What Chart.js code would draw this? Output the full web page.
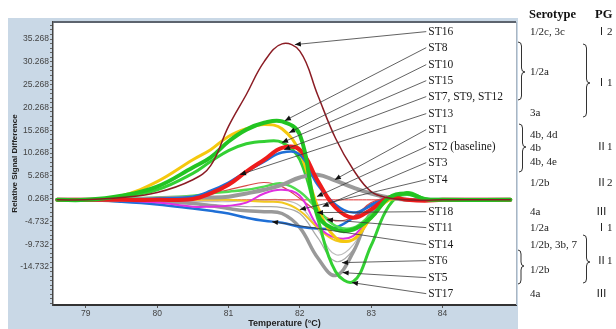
<!DOCTYPE html>
<html><head><meta charset="utf-8">
<script src="https://cdn.jsdelivr.net/npm/chart.js@4.4.1/dist/chart.umd.min.js"></script>
<style>html,body{margin:0;padding:0;background:#fff;overflow:hidden}canvas{display:block}</style>
</head><body>
<canvas id="c" width="616" height="329" style="width:616px;height:329px"></canvas>
<script>
// ---- data (temperature in °C, relative signal difference) ----
const temps = [78.6, 79.0, 79.5, 80.0, 80.5, 80.75, 81.0, 81.25, 81.5, 81.75, 82.0, 82.25, 82.5, 82.75, 83.0, 83.25, 83.5, 83.75, 84.0, 84.95];
const st16 = [0, 0, 0.5, 1.6, 4.4, 7.5, 16.1, 23.1, 30.3, 34.2, 32.6, 23.0, 13.5, 6.6, 1.8, 0.4, 0, -0.1, 0, 0];
const st8  = [0, 0, 0.9, 2.9, 7.1, 9.3, 12.8, 15.4, 16.9, 17.2, 14.3, -3.2, -6.5, -6.5, -3.9, 0.5, 1.4, 0.2, 0, 0];
const st10 = [0, 0, 0.9, 4.0, 8.8, 11.0, 13.9, 15.6, 16.5, 15.6, 10.4, -1.5, -8.3, -8.7, -3.9, 0, 0, 0, 0, 0];
const st15 = [0, 0, 0.3, 0.5, 0.9, 1.4, 1.8, 2.2, 2.9, 3.6, 1.8, -2.1, -5.7, -6.1, -3.2, 0, 1.1, 0.2, 0, 0];
const st17 = [0, 0, 0.7, 2.2, 5.8, 8.4, 10.8, 12.3, 12.8, 12.6, 8.8, -4.1, -15.7, -17.9, -10.0, -1.3, 1.6, 0.2, 0, 0];
const st7  = [0, 0, 0, 0, 0.2, 1.4, 3.3, 6.2, 8.8, 11.4, 11.0, 4.2, -1.7, -3.9, -2.1, 0.5, 0, -0.2, 0, 0];
const st13 = [0, 0, 0, 0.3, 0.7, 2.0, 3.8, 6.2, 8.4, 10.4, 9.9, 3.3, -1.0, -2.8, -1.3, 0.5, 0, 0, 0, 0];
const st1  = [0, 0, 0, 0.3, 0.5, 0.5, 0.7, 1.4, 2.2, 3.3, 4.9, 5.5, 4.2, 2.7, 1.4, 0.5, 0, 0, 0, 0];
const st2  = [0, 0, 0, 0, 0, 0, 0, 0, 0, 0, 0, 0, 0, 0, 0, 0, 0, 0, 0, 0];
const st3  = [0, 0, 0, 0.3, 0.7, 1.4, 2.2, 3.1, 3.8, 2.9, 0.3, -2.6, -4.6, -3.7, -0.6, 0.5, 0, 0, 0, 0];
const st4  = [0, 0, 0, 0, 0, 0, 0, -0.2, -0.4, -0.6, -2.4, -6.1, -8.9, -8.7, -3.9, 0.3, 0, 0, 0, 0];
const st11 = [0, 0, -0.2, -0.6, -1.5, -1.5, -1.3, -0.6, 1.4, 2.2, 0.9, -5.7, -8.3, -7.9, -3.2, 0.3, 0, 0, 0, 0];
const st14 = [0, 0, -0.4, -1.0, -1.9, -2.4, -3.0, -3.9, -4.6, -5.0, -5.9, -6.3, -6.1, -3.9, -1.0, 0.3, 0, 0, 0, 0];
const st5  = [0, 0, -0.2, -0.4, -0.8, -1.3, -1.9, -2.4, -2.6, -3.0, -6.1, -12.7, -16.6, -11.4, -2.6, 0.3, 0, 0, 0, 0];
const st6  = [0, 0, -0.2, -0.4, -0.8, -1.0, -1.3, -1.5, -1.5, -1.7, -3.0, -8.3, -13.5, -10.9, -3.0, 0.3, 0, 0, 0, 0];
const st18 = [0, 0, 0, -0.2, -0.4, -0.4, -0.4, -0.2, 0, 0, -1.3, -6.5, -12.0, -9.8, -2.6, 0.3, 0, 0, 0, 0];

const yMajorTicks = [-14.732, -9.732, -4.732, 0.268, 5.268, 10.268, 15.268, 20.268, 25.268, 30.268, 35.268];
const xTicks = [79, 80, 81, 82, 83, 84];

// callouts: label, label y (value), arrow target temperature, arrow target value
const calloutLabels  = ['ST16', 'ST8', 'ST10', 'ST15', 'ST7, ST9, ST12', 'ST13', 'ST1', 'ST2 (baseline)', 'ST3', 'ST4', 'ST18', 'ST11', 'ST14', 'ST6', 'ST5', 'ST17'];
const calloutLabelY  = [36.89, 33.38, 29.65, 26.14, 22.64, 18.91, 15.40, 11.67, 8.16, 4.43, -2.58, -6.09, -9.82, -13.33, -17.06, -20.57];
const calloutTargetT = [81.93, 81.79, 81.85, 81.75, 81.78, 81.16, 82.49, 82.24, 82.32, 82.00, 82.24, 82.38, 81.61, 82.59, 82.60, 82.73];
const calloutTargetV = [34.04, 17.37, 14.74, 12.55, 11.01, 5.53, 4.43, 0.71, -1.48, -2.14, -2.80, -4.34, -4.78, -13.77, -15.96, -18.15];
const calloutLabelT = 83.8;

// serotype table (text)
const serotypeText = ['1/2c, 3c', '1/2a', '3a', '4b, 4d', '4b', '4b, 4e', '1/2b', '4a', '1/2a', '1/2b, 3b, 7', '1/2b', '4a'];
const serotypeY    = [32, 72, 113, 135, 148, 162, 183, 212, 228, 245, 270, 294];
const pgText = ['Ⅰ2', 'Ⅰ1', 'Ⅱ1', 'Ⅱ2', 'Ⅲ', 'Ⅰ1', 'Ⅱ1', 'Ⅲ'];
const pgY    = [32, 83, 147, 183, 212, 228, 261, 294];

// ---- styles (first entry is drawn on top) ----
const seriesList = [
  {d: st16, c: '#8b1c24', w: 1.5},
  {d: st8,  c: '#22c422', w: 4},
  {d: st7,  c: '#ee1c1c', w: 4},
  {d: st13, c: '#1f6fd6', w: 2.5},
  {d: st1,  c: '#9a9a9a', w: 4},
  {d: st10, c: '#f5c80e', w: 3},
  {d: st17, c: '#33d033', w: 3},
  {d: st15, c: '#50dc50', w: 2.5},
  {d: st11, c: '#e030e0', w: 2},
  {d: st4,  c: '#f2c820', w: 2},
  {d: st3,  c: '#d84848', w: 1.2},
  {d: st2,  c: '#e03030', w: 1},
  {d: st14, c: '#1f6fd6', w: 2.5},
  {d: st5,  c: '#999999', w: 3.5},
  {d: st6,  c: '#a8a8a8', w: 1.2},
  {d: st18, c: '#bdbdbd', w: 1.2}
];

const datasets = seriesList.map(s => ({
  data: temps.map((t, i) => ({x: t, y: s.d[i]})),
  borderColor: s.c, borderWidth: s.w, pointRadius: 0,
  tension: 0.4, fill: false,
  borderCapStyle: 'round', borderJoinStyle: 'round'
}));

function isMajor(v) { return yMajorTicks.some(m => Math.abs(m - v) < 1e-6); }

function brace(ctx, x, y1, y2, ym, w) {
  const m = x + w * 0.5;
  ctx.beginPath();
  ctx.moveTo(x, y1);
  ctx.quadraticCurveTo(m, y1, m, y1 + 4);
  ctx.lineTo(m, ym - 4);
  ctx.quadraticCurveTo(m, ym, x + w, ym);
  ctx.quadraticCurveTo(m, ym, m, ym + 4);
  ctx.lineTo(m, y2 - 4);
  ctx.quadraticCurveTo(m, y2, x, y2);
  ctx.stroke();
}

const decor = {
  id: 'decor',
  beforeDraw(chart) {
    const {ctx, chartArea: a} = chart;
    ctx.save();
    ctx.fillStyle = '#ffffff'; ctx.fillRect(0, 0, chart.width, chart.height);
    ctx.fillStyle = '#c9d8e6'; ctx.fillRect(8, 18, 510, 311);
    ctx.fillStyle = '#ffffff'; ctx.fillRect(a.left, a.top, a.right - a.left, a.bottom - a.top);
    ctx.restore();
  },
  afterDatasetsDraw(chart) {
    const {ctx, scales: {x, y}, chartArea: a} = chart;
    ctx.save();
    ctx.strokeStyle = '#5d646e'; ctx.lineWidth = 2;
    ctx.beginPath(); ctx.moveTo(a.left, a.top); ctx.lineTo(a.right, a.top); ctx.stroke();
    ctx.strokeStyle = '#a9b5c2'; ctx.lineWidth = 1;
    ctx.beginPath(); ctx.moveTo(a.right + 0.5, a.top); ctx.lineTo(a.right + 0.5, a.bottom); ctx.stroke();
    const lx = x.getPixelForValue(calloutLabelT);
    ctx.font = '11.5px "Liberation Serif", "Times New Roman", serif';
    ctx.textBaseline = 'middle'; ctx.textAlign = 'left';
    calloutLabels.forEach((lab, i) => {
      const ly = y.getPixelForValue(calloutLabelY[i]);
      const tx = x.getPixelForValue(calloutTargetT[i]);
      const ty = y.getPixelForValue(calloutTargetV[i]);
      const sx = lx - 2;
      ctx.strokeStyle = '#3a3a3a'; ctx.lineWidth = 0.8;
      ctx.beginPath(); ctx.moveTo(sx, ly); ctx.lineTo(tx, ty); ctx.stroke();
      const ang = Math.atan2(ty - ly, tx - sx);
      const L = 6, W = 2.6;
      const bx = tx - L * Math.cos(ang), by = ty - L * Math.sin(ang);
      ctx.fillStyle = '#111';
      ctx.beginPath();
      ctx.moveTo(tx, ty);
      ctx.lineTo(bx + W * Math.sin(ang), by - W * Math.cos(ang));
      ctx.lineTo(bx - W * Math.sin(ang), by + W * Math.cos(ang));
      ctx.closePath(); ctx.fill();
      ctx.fillStyle = '#1a1a1a';
      ctx.fillText(lab, lx, ly);
    });
    ctx.restore();
  },
  afterDraw(chart) {
    const ctx = chart.ctx;
    ctx.save();
    ctx.textBaseline = 'middle'; ctx.textAlign = 'left';
    ctx.fillStyle = '#111';
    ctx.font = 'bold 12.5px "Liberation Serif", "Times New Roman", serif';
    ctx.fillText('Serotype', 529, 15);
    ctx.fillText('PG', 595, 15);
    ctx.fillStyle = '#222';
    ctx.font = '11px "Liberation Serif", "Times New Roman", serif';
    serotypeText.forEach((t, i) => ctx.fillText(t, 530, serotypeY[i]));
    ctx.font = '11px "Liberation Serif", "Noto Sans CJK SC", serif';
    pgText.forEach((t, i) => ctx.fillText(t, 596, pgY[i]));
    ctx.strokeStyle = '#333'; ctx.lineWidth = 1;
    brace(ctx, 518, 42, 100, 72, 7);
    brace(ctx, 583, 44, 117, 83, 7);
    brace(ctx, 519, 124, 172, 147, 7);
    brace(ctx, 583, 235, 283, 262, 7);
    brace(ctx, 518, 250, 284, 266, 6);
    ctx.restore();
  }
};

new Chart(document.getElementById('c'), {
  type: 'line',
  data: {datasets},
  options: {
    responsive: false, animation: false, devicePixelRatio: 1,
    layout: {padding: {left: 8, top: 22, right: 100, bottom: 0}},
    plugins: {legend: {display: false}, tooltip: {enabled: false}},
    scales: {
      x: {
        type: 'linear', min: 78.54, max: 85.03,
        afterBuildTicks: s => { s.ticks = xTicks.map(v => ({value: v})); },
        afterFit: s => { s.height = 24; },
        grid: {drawOnChartArea: false, drawTicks: true, tickLength: 3, color: '#555'},
        border: {color: '#333', width: 2},
        ticks: {font: {size: 8.5, family: 'Liberation Sans'}, color: '#444', padding: 1, maxRotation: 0, autoSkip: false},
        title: {display: true, text: 'Temperature (°C)', font: {size: 9, weight: 'bold', family: 'Liberation Sans'}, color: '#222', padding: {top: 0, bottom: 0}}
      },
      y: {
        type: 'linear', min: -23.06, max: 39.0,
        afterBuildTicks: s => {
          const t = [];
          for (let k = -23; k <= 38; k++) t.push({value: 0.268 + k});
          s.ticks = t;
        },
        afterFit: s => { s.width = 45; },
        grid: {drawOnChartArea: false, drawTicks: true, tickLength: 3, color: '#666'},
        border: {color: '#444', width: 1.5},
        ticks: {
          font: {size: 8.5, family: 'Liberation Sans'}, color: '#444', padding: 1, autoSkip: false,
          callback: v => isMajor(v) ? v.toFixed(3) : ''
        },
        title: {display: true, text: 'Relative Signal Difference', font: {size: 8, weight: 'bold', family: 'Liberation Sans'}, color: '#222', padding: {top: 2, bottom: 0}}
      }
    }
  },
  plugins: [decor]
});
</script>
</body></html>
